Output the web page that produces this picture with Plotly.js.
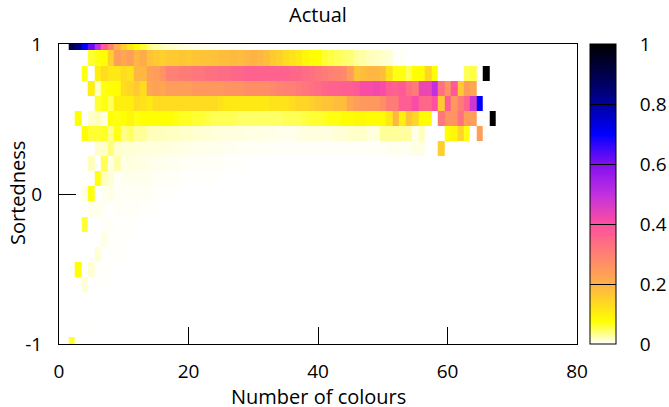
<!DOCTYPE html>
<html><head><meta charset="utf-8">
<script src="https://cdn.plot.ly/plotly-3.0.1.min.js"></script>
<style>html,body{margin:0;padding:0;background:#fff}</style>
</head><body><div id="chart" style="width:669px;height:407px"></div>
<script>
// number of colours: first column is 2
const firstColour = 2;
const colourCount = 66;
// row edges on the Sortedness axis, top to bottom
const rowEdges = [1.0,0.957,0.856,0.756,0.655,0.554,0.454,0.353,0.252,0.152,0.051,-0.049,-0.150,-0.251,-0.351,-0.452,-0.553,-0.653,-0.754,-0.855,-0.955,-1.0];
// values, per row from top to bottom, from 2 colours upward
const row00=[.9,.83,.7,.62,.5,.38,.3,.2,.15,.11,.08,.06,.035,.025,.02,.015,.012,.01,.008,.007,.006,.005,.004,.003,.002,.002,.002,.001,.001];
const row01=[0,0,0,.06,.07,.075,.15,.24,.22,.24,
  .19,.21,.17,.16,.15,.16,.16,.165,.16,.165,
  .17,.17,.175,.18,.18,.185,.18,.19,.195,.19,
  .18,.16,.15,.13,.12,.11,.09,.078,.075,.06,
  .055,.05,.045,.04,.03,.025,.02,.018,.016,.012,
  0,.003];
const row02=[0,0,.07,0,.1,.13,.11,.11,.13,.12,
  .19,.19,.23,.24,.26,.3,.3,.31,.31,.32,
  .32,.33,.33,.34,.34,.35,.35,.36,.36,.36,
  .36,.36,.36,.36,.35,.35,.34,.33,.32,.31,
  .3,.29,.28,.24,.17,.18,.19,.19,.18,.12,
  .07,.07,.05,.075,.075,.14,.08,0,0,0,
  0,.05,.055,0,1,0];
const row03=[0,0,0,.1,.015,.07,.075,.08,.13,.14,
  .16,.13,.22,.23,.22,.24,.24,.24,.24,.25,
  .25,.25,.25,.25,.26,.26,.26,.27,.27,.27,
  .27,.28,.29,.3,.3,.31,.32,.33,.34,.35,
  .36,.36,.37,.37,.38,.41,.41,.42,.41,.37,
  .36,.38,.33,.31,.43,.43,.5,.33,.26,.38,
  .16,.24,.22];
const row04=[0,0,0,0,.06,.07,.05,.1,.1,.1,
  .13,.12,.11,.13,.13,.13,.13,.13,.13,.13,
  .13,.13,.13,.12,.11,.11,.11,.11,.11,.11,
  .11,.12,.12,.12,.13,.14,.14,.15,.16,.17,
  .17,.18,.18,.22,.24,.25,.25,.25,.27,.31,
  .31,.37,.37,.41,.35,.35,.4,.16,.37,.25,
  .31,.36,.48,.7];
const row05=[0,.075,0,.015,.02,.008,.075,.07,.075,.09,
  .07,.075,.075,.075,.075,.075,.07,.065,.065,.06,
  .06,.055,.05,.05,.05,.05,.045,.045,.045,.045,
  .045,.045,.045,.05,.05,.05,.055,.06,.06,.065,
  .07,.07,.08,.08,.085,.085,.08,.08,.08,.11,
  .19,.1,.17,.14,.08,.08,0,.32,.26,.26,
  .33,.24,.24,0,0,1];
const row06=[0,0,.08,.06,.06,.065,.035,.07,.035,.045,
  .03,.03,.02,.02,.02,.018,.018,.016,.016,.014,
  .013,.012,.011,.01,.01,.009,.009,.008,.008,.008,
  .007,.007,.006,.005,.006,.007,.009,.009,.009,.009,
  .009,.012,.012,.016,.016,.016,.01,.01,.03,.03,
  .03,.028,.028,.007,.021,0,0,0,.075,.09,
  .14,.07,0,.24];
const row07=[0,0,0,0,.015,.015,.04,.015,.012,.012,
  .012,.01,.01,.01,.009,.009,.008,.008,.007,.006,
  .006,.005,.005,.005,.004,.004,.003,.003,.003,.003,
  .002,.002,.002,.002,.002,.002,.002,.002,.002,.002,
  .002,.002,.002,.002,.002,.002,.002,.002,.003,.004,
  .005,.004,.004,.008,.008,0,0,.15];
const row08=[0,0,0,.02,0,.05,.008,.025,.008,.01,.008,.008,.006,.005,.005,.004,.004,.003,.003,.003,.002,.002,.002,.002,.001,.001,.001,.001];
const row09=[0,0,0,0,.07,.02,.012,.002,.005,.005,.005,.005,.005,.002,.002,.003,.002,.001,.001,.001,.001,.001,.001];
const row10=[0,0,.008,.07,0,.004,.008,.003,.003,.003,.003,.003,.003,.001,.001,.001,.001];
const row11=[0,0,0,.006,.006,.003,0,.002,.002,.002,.002,.001,.001,.001];
const row12=[0,0,.06,0,0,.002,.002,.001,.001,.001,.001];
const row13=[0,0,0,0,0,.008,.001,.001,.001,.001];
const row14=[0,0,0,0,.012,0,.001,.001,.001];
const row15=[0,.075,0,.012,.001,.001,.001];
const row16=[0,0,.012,0,0,.001,.001];
const row17=[];
const row18=[];
const row19=[0,0,.001];
const row20=[.06];
const rows=[row00,row01,row02,row03,row04,row05,row06,row07,row08,row09,row10,row11,row12,row13,row14,row15,row16,row17,row18,row19,row20];
// colour bar stops
const paletteStops=[[0,'#ffffff'],[0.075,'#ffff00'],[0.2,'#ffb048'],[0.4,'#ff4fa0'],[0.5,'#c030e0'],[0.6,'#8010f0'],[0.7,'#0000ff'],[0.85,'#000070'],[1,'#000000']];
const barTicks=[0,0.2,0.4,0.6,0.8,1];
const xTicks=[0,20,40,60,80];
const yTicks=[-1,0,1];
const yTickText=['-1','0','1'];

const xEdges=[]; for(let i=0;i<=colourCount;i++) xEdges.push(firstColour-0.5+i);
const z=rows.map(r=>{const o=r.slice(); while(o.length<colourCount)o.push(0); return o;});
const font='Open Sans, sans-serif';
Plotly.newPlot('chart',[{type:'heatmap',x:xEdges,y:rowEdges,z:z,zmin:0,zmax:1,colorscale:paletteStops,
  hoverinfo:'skip',
  colorbar:{x:589.5/669,xref:'container',xanchor:'left',y:0,yref:'paper',yanchor:'bottom',len:1,lenmode:'fraction',thickness:26,thicknessmode:'pixels',
    tickvals:barTicks,ticktext:barTicks.map(v=>'\u2003'+v),ticks:'inside',ticklen:26,tickwidth:1,tickcolor:'#000',outlinewidth:1,outlinecolor:'#000',
    borderwidth:0,xpad:0,ypad:0,tickfont:{family:font,size:19,color:'#000'}}}],
 {width:669,height:407,margin:{l:59,r:92,t:44,b:63},paper_bgcolor:'#fff',plot_bgcolor:'#fff',showlegend:false,
  font:{family:font,size:19,color:'#000'},
  title:{text:'Actual',x:318/669,xanchor:'center',y:1-15/407,yanchor:'middle',font:{family:font,size:20}},
  annotations:[
    {text:'Number of colours',xref:'paper',yref:'paper',x:0.5,y:-52.5/300,xanchor:'center',yanchor:'middle',showarrow:false,font:{family:font,size:20,color:'#000'}},
    {text:'Sortedness',textangle:-90,xref:'paper',yref:'paper',x:(17-59)/518,y:(344-193)/300,xanchor:'center',yanchor:'middle',showarrow:false,font:{family:font,size:20,color:'#000'}}
  ],
  xaxis:{range:[0,80],tickvals:xTicks,ticks:'inside',ticklen:17,tickwidth:1,tickcolor:'#000',showgrid:false,zeroline:false,showline:true,mirror:true,linecolor:'#000',linewidth:1,
    ticklabelstandoff:10,tickfont:{family:font,size:19}},
  yaxis:{range:[-1,1],tickvals:yTicks,ticktext:yTickText,ticks:'inside',ticklen:17,tickwidth:1,tickcolor:'#000',showgrid:false,zeroline:false,showline:true,mirror:true,linecolor:'#000',linewidth:1,
    ticklabelstandoff:12,tickfont:{family:font,size:19}}},
 {displayModeBar:false,staticPlot:true});
</script></body></html>
